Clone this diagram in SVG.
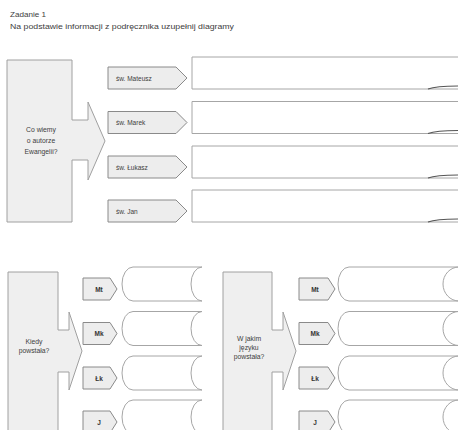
<svg xmlns="http://www.w3.org/2000/svg" width="458" height="430" viewBox="0 0 458 430">
<style>
.bg{fill:#ffffff}
.callout{fill:#efefef;stroke:#a0a0a0;stroke-width:1}
.tag{fill:#ededed;stroke:#8a8a8a;stroke-width:1}
.ans{fill:#ffffff;stroke:#a6a6a6;stroke-width:1}
.curl{fill:none;stroke:#555555;stroke-width:1.2}
text{font-family:"Liberation Sans",Arial,sans-serif;fill:#404040}
.title{font-size:7.5px}
.q{font-size:6.8px;text-anchor:middle}
.lab{font-size:6.5px}
.abbr{font-size:6.5px;font-weight:bold;text-anchor:middle;fill:#333333}
</style>
<rect class="bg" x="0" y="0" width="458" height="430"/>
<g id="title">
<text class="title" x="10" y="17" textLength="36" lengthAdjust="spacingAndGlyphs">Zadanie 1</text>
<text class="title" x="10" y="29" textLength="224" lengthAdjust="spacingAndGlyphs">Na podstawie informacji z podręcznika uzupełnij diagramy</text>
</g>
<g id="q1">
<path class="callout" d="M7,60 H72 V120 H88 V102 L105,141 L88,180 V160 H72 V222 H7 Z"/>
<text class="q" x="41" y="132">Co wiemy</text>
<text class="q" x="41" y="143">o autorze</text>
<text class="q" x="41" y="154">Ewangelii?</text>
</g>
<g id="tag-mateusz"><path class="tag" d="M108,67 H176 L187,78 L176,89 H108 Z"/><text class="lab" x="116" y="80.5">św. Mateusz</text></g>
<g id="tag-marek"><path class="tag" d="M108,111.5 H176 L187,122.5 L176,133.5 H108 Z"/><text class="lab" x="116" y="125">św. Marek</text></g>
<g id="tag-lukasz"><path class="tag" d="M108,156 H176 L187,167 L176,178 H108 Z"/><text class="lab" x="116" y="169.5">św. Łukasz</text></g>
<g id="tag-jan"><path class="tag" d="M108,200 H176 L187,211 L176,222 H108 Z"/><text class="lab" x="116" y="213.5">św. Jan</text></g>
<g id="ans-top-1"><path class="ans" d="M460,57 H192 V89 H428 M428,89 H460"/><path class="curl" d="M428,89 C436,86 446,86 458,86"/></g>
<g id="ans-top-2"><path class="ans" d="M460,101.5 H192 V133.5 H428 M428,133.5 H460"/><path class="curl" d="M428,133.5 C436,130.5 446,130.5 458,130.5"/></g>
<g id="ans-top-3"><path class="ans" d="M460,146 H192 V178 H428 M428,178 H460"/><path class="curl" d="M428,178 C436,175 446,175 458,175"/></g>
<g id="ans-top-4"><path class="ans" d="M460,190 H192 V222 H428 M428,222 H460"/><path class="curl" d="M428,222 C436,219 446,219 458,219"/></g>
<g id="q2">
<path class="callout" d="M8,272 H58 V330 H69 V312 L82,351 L69,390 V372 H58 V440 H8 Z"/>
<text class="q" x="34" y="344">Kiedy</text>
<text class="q" x="34" y="353">powstała?</text>
</g>
<g id="tag-l-mt"><path class="tag" d="M83,278 H110 L117,289 L110,300 H83 Z"/><text class="abbr" x="99" y="291.5">Mt</text></g>
<g id="tag-l-mk"><path class="tag" d="M83,322.5 H110 L117,333.5 L110,344.5 H83 Z"/><text class="abbr" x="99" y="336">Mk</text></g>
<g id="tag-l-lk"><path class="tag" d="M83,367 H110 L117,378 L110,389 H83 Z"/><text class="abbr" x="99" y="380.5">Łk</text></g>
<g id="tag-l-j"><path class="tag" d="M83,411 H110 L117,422 L110,433 H83 Z"/><text class="abbr" x="99" y="424.5">J</text></g>
<g id="ans-l-1"><path class="ans" d="M133,267 H202 A11,17 0 0 0 202,301 H133 A11,17 0 0 1 133,267 Z"/></g>
<g id="ans-l-2"><path class="ans" d="M133,311.5 H202 A11,17 0 0 0 202,345.5 H133 A11,17 0 0 1 133,311.5 Z"/></g>
<g id="ans-l-3"><path class="ans" d="M133,356 H202 A11,17 0 0 0 202,390 H133 A11,17 0 0 1 133,356 Z"/></g>
<g id="ans-l-4"><path class="ans" d="M133,400 H202 A11,17 0 0 0 202,434 H133 A11,17 0 0 1 133,400 Z"/></g>
<g id="q3">
<path class="callout" d="M223,272 H272 V330 H283 V312 L296,351 L283,390 V372 H272 V440 H223 Z"/>
<text class="q" x="249" y="341">W jakim</text>
<text class="q" x="249" y="350">języku</text>
<text class="q" x="249" y="359">powstała?</text>
</g>
<g id="tag-r-mt"><path class="tag" d="M299,278 H328 L335,289 L328,300 H299 Z"/><text class="abbr" x="315" y="291.5">Mt</text></g>
<g id="tag-r-mk"><path class="tag" d="M299,322.5 H328 L335,333.5 L328,344.5 H299 Z"/><text class="abbr" x="315" y="336">Mk</text></g>
<g id="tag-r-lk"><path class="tag" d="M299,367 H328 L335,378 L328,389 H299 Z"/><text class="abbr" x="315" y="380.5">Łk</text></g>
<g id="tag-r-j"><path class="tag" d="M299,411 H328 L335,422 L328,433 H299 Z"/><text class="abbr" x="315" y="424.5">J</text></g>
<g id="ans-r-1"><path class="ans" d="M349,267 H459 A16,17 0 0 0 459,301 H349 A11,17 0 0 1 349,267 Z"/></g>
<g id="ans-r-2"><path class="ans" d="M349,311.5 H459 A16,17 0 0 0 459,345.5 H349 A11,17 0 0 1 349,311.5 Z"/></g>
<g id="ans-r-3"><path class="ans" d="M349,356 H459 A16,17 0 0 0 459,390 H349 A11,17 0 0 1 349,356 Z"/></g>
<g id="ans-r-4"><path class="ans" d="M349,400 H459 A16,17 0 0 0 459,434 H349 A11,17 0 0 1 349,400 Z"/></g>
<g id="connectors"></g>
</svg>
